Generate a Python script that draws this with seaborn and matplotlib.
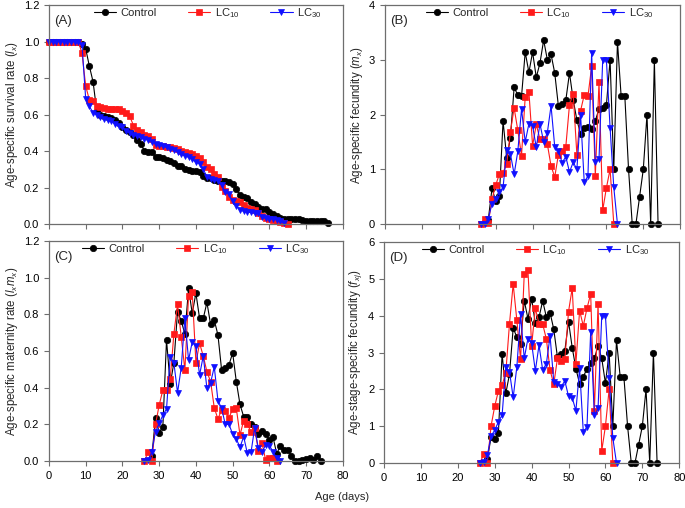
"""
Age-specific life table curves (lx, mx, lxmx, fxj) for Control, LC10, LC30.
Four-panel figure rebuilt with seaborn + matplotlib, saved to out.png.
"""

import matplotlib
matplotlib.use("Agg")
import matplotlib.pyplot as plt
import numpy as np
import seaborn as sns

# --------------------------------------------------------------------------- #
# Data (one value per day)
# --------------------------------------------------------------------------- #
# (A) survival rate lx
lx_ctrl_start = 0
lx_ctrl = [1.0, 1.0, 1.0, 1.0, 1.0, 1.0, 1.0, 1.0, 1.0, 0.985,
           0.96, 0.865, 0.78, 0.62, 0.60, 0.59, 0.585, 0.58, 0.57, 0.555,
           0.53, 0.515, 0.505, 0.49, 0.46, 0.44, 0.40, 0.395, 0.395, 0.37,
           0.365, 0.36, 0.35, 0.345, 0.335, 0.32, 0.32, 0.30, 0.295, 0.29,
           0.29, 0.285, 0.265, 0.255, 0.25, 0.24, 0.235, 0.235, 0.235, 0.23,
           0.22, 0.19, 0.16, 0.15, 0.14, 0.12, 0.11, 0.095, 0.085, 0.08,
           0.065, 0.055, 0.045, 0.035, 0.03, 0.03, 0.03, 0.03, 0.025, 0.02,
           0.015, 0.015, 0.015, 0.015, 0.015, 0.015, 0.005]
lx_lc10_start = 0
lx_lc10 = [1.0, 1.0, 1.0, 1.0, 1.0, 1.0, 1.0, 1.0, 1.0, 0.935,
           0.756, 0.68, 0.676, 0.647, 0.64, 0.634, 0.63, 0.63, 0.63, 0.63,
           0.62, 0.61, 0.59, 0.54, 0.515, 0.505, 0.49, 0.48, 0.465, 0.435,
           0.43, 0.425, 0.42, 0.42, 0.415, 0.41, 0.40, 0.395, 0.39, 0.385,
           0.375, 0.36, 0.34, 0.315, 0.30, 0.275, 0.26, 0.205, 0.18, 0.15,
           0.13, 0.125, 0.12, 0.105, 0.087, 0.082, 0.075, 0.06, 0.042, 0.033,
           0.027, 0.024, 0.018, 0.013, 0.005, 0.002]
lx_lc30_start = 0
lx_lc30 = [1.0, 1.0, 1.0, 1.0, 1.0, 1.0, 1.0, 1.0, 1.0, 0.98,
           0.685, 0.645, 0.61, 0.60, 0.585, 0.575, 0.57, 0.565, 0.55, 0.535,
           0.53, 0.51, 0.50, 0.49, 0.48, 0.475, 0.465, 0.46, 0.45, 0.44,
           0.435, 0.425, 0.42, 0.41, 0.405, 0.395, 0.385, 0.375, 0.365, 0.355,
           0.34, 0.33, 0.30, 0.26, 0.248, 0.242, 0.237, 0.213, 0.178, 0.164,
           0.124, 0.10, 0.078, 0.069, 0.064, 0.064, 0.06, 0.06, 0.038, 0.031,
           0.029, 0.027, 0.024, 0.015, 0.005]

# (B) fecundity mx
mx_ctrl_start = 28
mx_ctrl = [0.08, 0.65, 0.42, 0.52, 1.88, 1.20, 1.58, 2.50, 2.35, 2.33,
           3.14, 2.77, 3.14, 2.68, 2.94, 3.36, 3.00, 3.10, 2.76, 2.15,
           2.19, 2.26, 2.76, 2.27, 1.90, 1.65, 1.76, 1.77, 1.73, 1.89,
           2.10, 2.12, 2.17, 3.00, 1.00, 3.33, 2.33, 2.33, 1.00, 0.0,
           0.0, 0.50, 1.00, 2.00, 0.0, 3.00, 0.0]
mx_lc10_start = 26
mx_lc10 = [0.0, 0.10, 0.02, 0.45, 0.71, 0.91, 0.94, 1.10, 1.69, 2.12,
           1.71, 1.25, 2.32, 2.42, 1.43, 1.82, 1.55, 1.56, 1.46, 1.06,
           0.86, 1.27, 1.33, 1.41, 2.18, 2.38, 1.27, 2.07, 2.36, 2.33,
           2.88, 0.88, 2.60, 0.25, 0.66, 1.00, 0.0]
mx_lc30_start = 26
mx_lc30 = [0.0, 0.0, 0.10, 0.37, 0.46, 0.58, 0.67, 1.35, 1.28, 0.91,
           1.33, 2.10, 1.50, 1.83, 1.79, 1.40, 1.83, 1.50, 1.67, 2.16,
           1.41, 1.34, 1.12, 1.23, 0.95, 1.13, 1.00, 2.00, 0.76, 0.88,
           3.13, 1.13, 1.19, 3.00, 3.00, 1.76, 0.67, 0.0]

# (C) maternity lxmx
lxmx_ctrl_start = 28
lxmx_ctrl = [0.027, 0.236, 0.155, 0.187, 0.66, 0.418, 0.536, 0.815, 0.764, 0.693,
             0.942, 0.805, 0.916, 0.778, 0.778, 0.865, 0.745, 0.769, 0.687, 0.496,
             0.505, 0.524, 0.59, 0.433, 0.309, 0.242, 0.242, 0.20, 0.187, 0.147,
             0.164, 0.147, 0.115, 0.129, 0.04, 0.084, 0.06, 0.06, 0.029, 0.0,
             0.0, 0.005, 0.01, 0.015, 0.004, 0.025, 0.0]
lxmx_lc10_start = 26
lxmx_lc10 = [0.0, 0.051, 0.0, 0.20, 0.305, 0.387, 0.387, 0.447, 0.693, 0.855,
             0.678, 0.496, 0.90, 0.92, 0.536, 0.642, 0.573, 0.487, 0.433, 0.29,
             0.229, 0.28, 0.275, 0.236, 0.284, 0.287, 0.142, 0.22, 0.20, 0.16,
             0.178, 0.055, 0.096, 0.005, 0.015, 0.015, 0.0]
lxmx_lc30_start = 26
lxmx_lc30 = [0.0, 0.005, 0.05, 0.16, 0.205, 0.25, 0.284, 0.57, 0.536, 0.373,
             0.509, 0.78, 0.55, 0.65, 0.627, 0.469, 0.573, 0.396, 0.427, 0.514,
             0.329, 0.287, 0.20, 0.20, 0.147, 0.12, 0.075, 0.133, 0.042, 0.047,
             0.182, 0.069, 0.051, 0.087, 0.084, 0.051, 0.015, 0.0]

# (D) age-stage-specific fecundity fxj
fx_ctrl_start = 28
fx_ctrl = [0.10, 0.70, 0.65, 0.82, 2.97, 1.89, 2.41, 3.66, 3.42, 3.24,
           4.41, 3.92, 4.46, 3.79, 3.96, 4.40, 3.96, 4.08, 3.63, 2.87,
           2.96, 3.05, 3.84, 3.13, 2.56, 2.15, 2.34, 2.56, 2.72, 2.84,
           3.18, 2.84, 2.16, 3.00, 1.00, 3.33, 2.34, 2.34, 1.00, 0.0,
           0.0, 0.50, 1.00, 2.00, 0.0, 3.00, 0.0]
fx_lc10_start = 26
fx_lc10 = [0.0, 0.24, 0.0, 1.00, 1.54, 1.96, 2.11, 2.45, 3.78, 4.86,
           3.87, 2.81, 5.13, 5.24, 3.19, 4.20, 3.78, 3.77, 3.36, 2.52,
           2.14, 2.84, 2.77, 2.81, 4.11, 4.75, 2.70, 4.14, 3.72, 4.20,
           4.59, 1.41, 4.32, 0.33, 1.00, 2.00, 0.0]
fx_lc30_start = 26
fx_lc30 = [0.0, 0.03, 0.21, 0.73, 0.89, 1.12, 1.30, 2.60, 2.48, 1.78,
           2.61, 4.04, 2.84, 3.38, 3.25, 2.50, 3.20, 2.52, 2.70, 3.45,
           2.20, 2.15, 2.07, 2.23, 1.81, 1.77, 1.42, 2.57, 0.84, 0.98,
           3.57, 1.29, 1.48, 4.00, 4.00, 2.32, 0.68, 0.0]

SERIES_LABELS = ["Control", "LC$_{10}$", "LC$_{30}$"]

# --------------------------------------------------------------------------- #
# Style
# --------------------------------------------------------------------------- #
sns.set_style("ticks")
plt.rcParams["font.family"] = ["Liberation Sans", "DejaVu Sans"]
plt.rcParams["mathtext.fontset"] = "custom"
plt.rcParams["mathtext.rm"] = "Liberation Sans"
plt.rcParams["mathtext.it"] = "Liberation Sans:italic"

SPINE = "#6e6e6e"
STYLES = [
    dict(color="black", marker="o", ms=4.6, lw=0.8),
    dict(color="#ff1a1a", marker="s", ms=4.8, lw=0.8),
    dict(color="#1010ff", marker="v", ms=4.8, lw=0.8),
]


def draw_panel(ax, series, ylim, yticks, yfmt, ylabel, tag, show_xlabels, leg_x):
    for (start, vals), label, st in zip(series, SERIES_LABELS, STYLES):
        days = np.arange(start, start + len(vals))
        sns.lineplot(
            x=days, y=vals, ax=ax, label=label, color=st["color"],
            marker=st["marker"], markersize=st["ms"], linewidth=st["lw"],
            markeredgecolor=st["color"], markeredgewidth=0.5, clip_on=False,
        )
    ax.set_xlim(0, 80)
    ax.set_ylim(*ylim)
    ax.set_xticks(np.arange(0, 81, 10))
    ax.set_yticks(yticks)
    ax.set_yticklabels([yfmt.format(v) for v in yticks])
    if not show_xlabels:
        ax.set_xticklabels([])
    ax.tick_params(direction="out", length=3.5, width=0.8, colors=SPINE,
                   labelcolor="black", labelsize=8)
    for sp in ax.spines.values():
        sp.set_visible(True)
        sp.set_color(SPINE)
        sp.set_linewidth(0.9)
    ax.set_xlabel("")
    ax.set_ylabel(ylabel, fontsize=8.3, labelpad=3)
    ax.text(0.018, 0.955, tag, transform=ax.transAxes, fontsize=9.5,
            va="top", ha="left")
    ax.legend(loc="upper left", bbox_to_anchor=(leg_x, 1.025), ncol=3,
              frameon=False, fontsize=8, handlelength=2.0, handletextpad=0.4,
              columnspacing=2.8, borderaxespad=0.2)


def main():
    fig = plt.figure(figsize=(6.85, 5.08), dpi=100)
    ax_a = fig.add_axes([0.0715, 0.559, 0.429, 0.431])
    ax_b = fig.add_axes([0.562, 0.559, 0.431, 0.431])
    ax_c = fig.add_axes([0.0715, 0.0925, 0.429, 0.433])
    ax_d = fig.add_axes([0.5606, 0.0886, 0.431, 0.435])

    draw_panel(ax_a,
               [(lx_ctrl_start, lx_ctrl), (lx_lc10_start, lx_lc10), (lx_lc30_start, lx_lc30)],
               (0, 1.2), [0, 0.2, 0.4, 0.6, 0.8, 1.0, 1.2], "{:.1f}",
               "Age-specific survival rate ($l_x$)", "(A)", False, 0.13)
    draw_panel(ax_b,
               [(mx_ctrl_start, mx_ctrl), (mx_lc10_start, mx_lc10), (mx_lc30_start, mx_lc30)],
               (0, 4), [0, 1, 2, 3, 4], "{:.0f}",
               "Age-specific fecundity ($m_x$)", "(B)", False, 0.115)
    draw_panel(ax_c,
               [(lxmx_ctrl_start, lxmx_ctrl), (lxmx_lc10_start, lxmx_lc10),
                (lxmx_lc30_start, lxmx_lc30)],
               (0, 1.2), [0, 0.2, 0.4, 0.6, 0.8, 1.0, 1.2], "{:.1f}",
               "Age-specific maternity rate ($l_xm_x$)", "(C)", True, 0.09)
    draw_panel(ax_d,
               [(fx_ctrl_start, fx_ctrl), (fx_lc10_start, fx_lc10), (fx_lc30_start, fx_lc30)],
               (0, 6), [0, 1, 2, 3, 4, 5, 6], "{:.0f}",
               "Age-stage-specific fecundity ($f_{xj}$)", "(D)", True, 0.105)

    fig.text(0.5, 0.022, "Age (days)", ha="center", va="center", fontsize=8)
    fig.savefig("out.png", dpi=100)
    plt.close(fig)


if __name__ == "__main__":
    main()
